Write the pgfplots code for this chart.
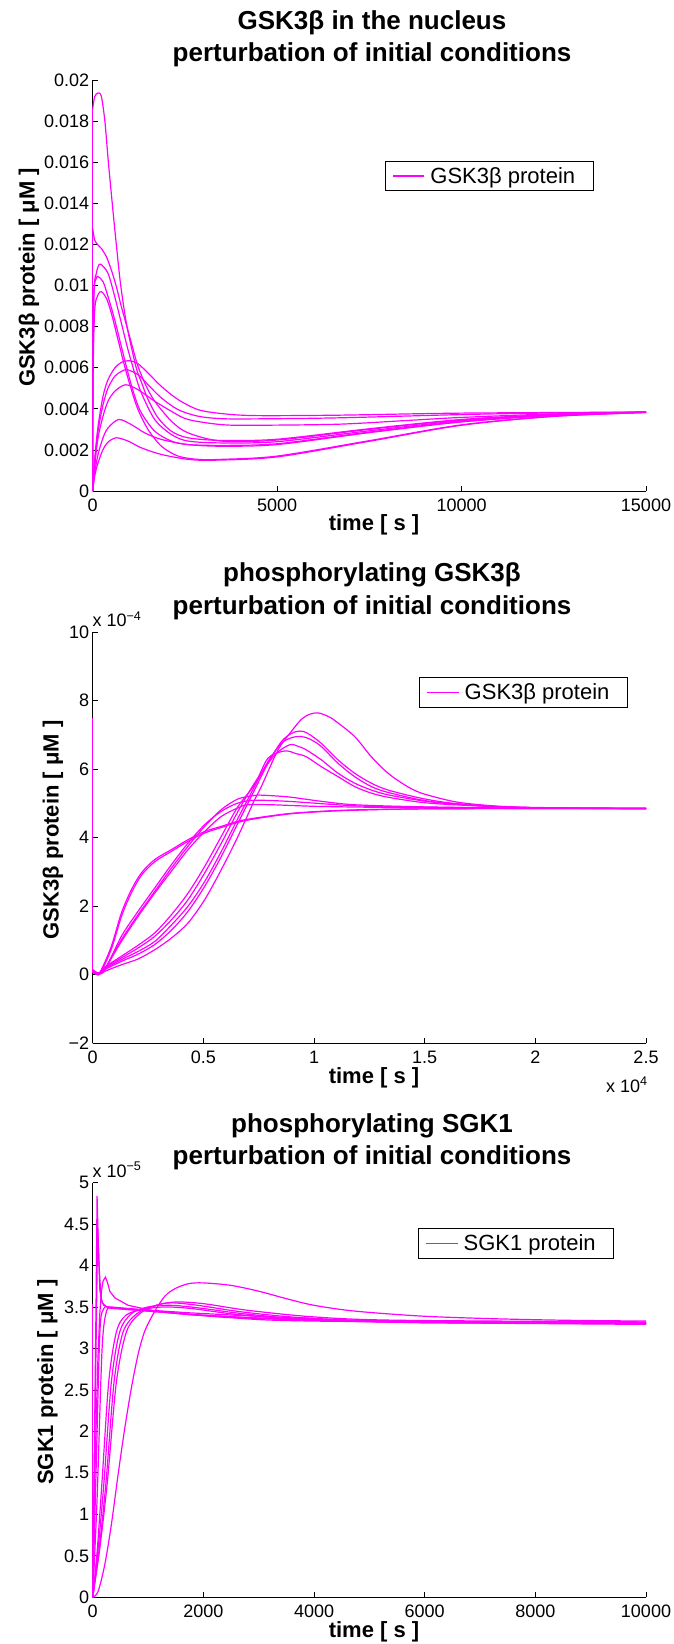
\documentclass[border=0pt]{standalone}
\usepackage{pgfplots}
\pgfplotsset{compat=1.18}
\usepackage{fontspec}
\setmainfont{Liberation Sans}
\definecolor{mag}{RGB}{255,0,255}
\pgfplotsset{
  matlab/.style={
    scale only axis, width=553.3pt,
    axis x line*=bottom, axis y line*=left,
    axis line style={-, black, line width=0.8pt},
    tick align=inside, major tick length=5.5pt,
    tick style={black, line width=0.8pt},
    scaled ticks=false,
    tick label style={font=\fontsize{18}{18}\selectfont, inner sep=0pt},
    xticklabel style={anchor=base, yshift=-20.5pt},
    yticklabel style={anchor=east, xshift=-3.4pt},
    enlargelimits=false, clip=false,
    legend style={draw=black, line width=0.8pt, fill=white, inner xsep=7pt, inner ysep=6pt,
      font=\fontsize{22}{22}\selectfont, nodes={inner sep=0pt}, column sep=5.5pt, anchor=north west},
    legend image code/.code={\draw[color=mag, line width=1.2pt] (0pt,0pt) -- (31.5pt,0pt);},
  },
  curve/.style={color=mag, line width=1.2pt, mark=none, smooth, tension=0.5},
  sharp/.style={color=mag, line width=1.2pt, mark=none},
}
\begin{document}
\begin{tikzpicture}
\useasboundingbox (0pt,0pt) rectangle (674pt,-1644pt);
% ---------------- Plot 1 ----------------
\begin{axis}[matlab, at={(92.7pt,-491pt)}, anchor=south west, height=411pt,
  xmin=0, xmax=15000, ymin=0, ymax=0.02,
  xtick={0,5000,10000,15000}, xticklabels={0,5000,10000,15000},
  ytick={0,0.002,0.004,0.006,0.008,0.01,0.012,0.014,0.016,0.018,0.02},
  yticklabels={0,0.002,0.004,0.006,0.008,0.01,0.012,0.014,0.016,0.018,0.02},
  legend style={at={(0.528,0.803)}}]
\addplot[curve] coordinates {(0,0.0186) (54,0.01919) (145,0.01937) (235,0.0192) (330,0.0180) (420,0.0161) (530,0.0140) (640,0.0120) (760,0.0100) (930,0.0080) (1180,0.0060) (1320,0.0053) (1501,0.00445) (1772,0.00356) (2133,0.00291) (2585,0.00259) (3489,0.00246) (5000,0.00252) (7500,0.00303) (10000,0.00348) (12500,0.00372) (15000,0.00384)};
\addlegendentry{GSK3β protein\hspace*{11pt}}
\addplot[sharp] coordinates {(0,0) (0,0.0186)};
\addplot[curve] coordinates {(0,0.01277) (54,0.01221) (145,0.01197) (235,0.0118) (371,0.0114) (506,0.01075) (642,0.00994) (777,0.00897) (913,0.00809) (1049,0.0072) (1229,0.00606) (1455,0.00509) (1681,0.00437) (2133,0.0034) (2585,0.00283) (3489,0.00243) (5000,0.00248) (7500,0.003) (10000,0.00346) (12500,0.00371) (15000,0.00384)};
\addplot[curve] coordinates {(0,0) (10,0.006) (36,0.0098) (99,0.01059) (145,0.01091) (217,0.01104) (416,0.01059) (597,0.00946) (777,0.00817) (958,0.00687) (1139,0.00574) (1320,0.00477) (1681,0.00348) (2133,0.00275) (2585,0.00243) (3489,0.00234) (5000,0.0024) (7500,0.00293) (10000,0.00342) (12500,0.0037) (15000,0.00384)};
\addplot[curve] coordinates {(0,0) (10,0.006) (36,0.0097) (99,0.01035) (145,0.01043) (280,0.01019) (416,0.00946) (597,0.00833) (777,0.00703) (958,0.00574) (1139,0.00461) (1320,0.0038) (1681,0.00291) (2133,0.00243) (2585,0.00226) (3489,0.00222) (5000,0.0023) (7500,0.00287) (10000,0.00338) (12500,0.00369) (15000,0.00384)};
\addplot[curve] coordinates {(0,0) (10,0.0055) (54,0.0088) (145,0.00955) (235,0.0097) (371,0.00938) (506,0.00865) (687,0.00736) (868,0.00606) (1049,0.00493) (1229,0.00396) (1501,0.00299) (1862,0.00218) (2314,0.0017) (2857,0.00154) (3489,0.00154) (5000,0.0017) (7500,0.00245) (10000,0.00322) (12500,0.00364) (15000,0.00382)};
\addplot[curve] coordinates {(0,0) (54,0.00154) (145,0.00315) (280,0.00461) (416,0.00542) (597,0.00598) (777,0.00626) (1003,0.00634) (1229,0.00619) (1501,0.00574) (1862,0.00509) (2314,0.00445) (2857,0.00396) (3489,0.00377) (4393,0.00367) (6653,0.00369) (10000,0.00379) (15000,0.00384)};
\addplot[curve] coordinates {(0,0) (54,0.00137) (145,0.00291) (280,0.0042) (416,0.00501) (597,0.00558) (777,0.00582) (940,0.0059) (1229,0.00566) (1501,0.00517) (1862,0.00453) (2314,0.00396) (2857,0.00364) (3489,0.00352) (4393,0.00351) (6653,0.00356) (10000,0.00372) (12500,0.0038) (15000,0.00384)};
\addplot[curve] coordinates {(0,0) (54,0.00121) (145,0.00259) (280,0.00364) (416,0.00437) (597,0.00485) (886,0.00517) (1229,0.00493) (1681,0.00437) (2133,0.00388) (2585,0.00348) (3489,0.00323) (4393,0.0032) (6653,0.00325) (8500,0.00343) (10000,0.00358) (12500,0.00375) (15000,0.00383)};
\addplot[curve] coordinates {(0,0) (54,0.00089) (145,0.00178) (280,0.00259) (416,0.00307) (705,0.00348) (1049,0.00323) (1410,0.00283) (1862,0.00251) (2585,0.00226) (3489,0.00218) (5000,0.00226) (7500,0.00284) (10000,0.00336) (12500,0.00368) (15000,0.00384)};
\addplot[curve] coordinates {(0,0) (54,0.00073) (145,0.00137) (280,0.00202) (416,0.00238) (642,0.00259) (958,0.00243) (1320,0.0021) (1862,0.00178) (2585,0.00154) (3309,0.0015) (5000,0.00166) (7500,0.00242) (10000,0.0032) (12500,0.00363) (15000,0.00382)};
\end{axis}
% ---------------- Plot 2 (y in units of 1e-4) ----------------
\begin{axis}[matlab, at={(92.7pt,-1043.3pt)}, anchor=south west, height=411.3pt,
  xmin=0, xmax=25000, ymin=-2, ymax=10,
  xtick={0,5000,10000,15000,20000,25000}, xticklabels={0,0.5,1,1.5,2,2.5},
  ytick={-2,0,2,4,6,8,10}, yticklabels={−2,0,2,4,6,8,10},
  legend style={at={(0.590,0.890)}}]
\addplot[curve] coordinates {(0,0.15) (250,0.05) (392,0.15) (843,0.83) (1295,1.80) (1747,2.48) (2199,2.97) (2801,3.36) (3554,3.65) (4307,3.94) (5060,4.18) (5813,4.33) (6566,4.48) (7319,4.57) (8825,4.70) (10331,4.77) (11837,4.81) (14849,4.84) (20000,4.85) (25000,4.85)};
\addlegendentry{GSK3β protein\hspace*{11pt}}
\addplot[curve] coordinates {(0,0.1) (250,0.0) (420,0.12) (870,0.80) (1320,1.74) (1770,2.42) (2220,2.92) (2830,3.31) (3580,3.61) (4330,3.90) (5080,4.14) (5830,4.30) (6580,4.45) (7330,4.55) (8850,4.69) (10350,4.76) (11850,4.80) (14850,4.84) (20000,4.85) (25000,4.85)};
\addplot[curve] coordinates {(0,0.05) (300,0.05) (542,0.17) (1295,1.02) (2048,1.75) (2801,2.43) (3554,3.11) (4307,3.75) (5060,4.33) (5813,4.82) (6566,5.13) (7319,5.23) (7620,5.24) (8825,5.19) (10331,5.06) (11837,4.96) (14849,4.90) (19668,4.86) (25000,4.85)};
\addplot[curve] coordinates {(0,0.08) (300,0.04) (560,0.15) (1295,1.12) (2048,1.85) (2801,2.53) (3554,3.21) (4307,3.84) (5060,4.38) (5813,4.77) (6566,5.01) (7319,5.09) (8825,5.06) (11837,4.93) (14849,4.89) (20000,4.86) (25000,4.85)};
\addplot[curve] coordinates {(0,0.1) (300,0.05) (560,0.18) (1295,0.97) (2048,1.70) (2801,2.38) (3554,3.02) (4307,3.65) (5060,4.18) (5813,4.62) (6566,4.87) (7018,4.96) (8073,4.96) (10331,4.91) (14849,4.87) (20000,4.85) (25000,4.85)};
\addplot[sharp] coordinates {(0,7.5) (0,0.1)};
\addplot[curve] coordinates {(0,0.1) (250,0.0) (542,0.10) (1295,0.29) (2048,0.46) (2801,0.73) (3554,1.07) (4307,1.51) (5060,2.19) (5813,3.07) (6566,4.04) (7319,5.11) (7620,5.49) (8373,6.56) (8976,7.10) (9427,7.45) (9800,7.60) (10180,7.64) (10600,7.55) (10934,7.42) (11837,6.95) (12590,6.36) (13343,5.88) (14096,5.54) (14849,5.30) (16355,5.05) (17861,4.94) (19367,4.89) (22379,4.86) (25000,4.85)};
\addplot[curve] coordinates {(0,0.1) (250,0.02) (542,0.15) (1295,0.39) (2048,0.60) (2801,0.88) (3554,1.30) (4307,1.85) (5060,2.58) (5813,3.45) (6566,4.43) (7319,5.40) (7900,6.15) (8524,6.80) (8976,7.04) (9352,7.11) (9700,7.05) (10331,6.75) (11084,6.27) (11837,5.88) (12590,5.59) (13343,5.39) (14849,5.15) (16355,5.00) (19367,4.88) (25000,4.85)};
\addplot[curve] coordinates {(0,0.12) (250,0.03) (542,0.18) (1295,0.44) (2048,0.68) (2801,0.97) (3554,1.45) (4307,2.00) (5060,2.72) (5813,3.60) (6566,4.57) (7319,5.50) (7900,6.20) (8524,6.75) (9000,6.92) (9427,6.95) (9800,6.88) (10331,6.66) (11084,6.17) (11837,5.78) (12590,5.49) (13343,5.32) (14849,5.10) (16355,4.98) (19367,4.88) (25000,4.85)};
\addplot[curve] coordinates {(0,0.08) (250,0.0) (542,0.2) (1295,0.49) (2048,0.78) (2801,1.12) (3554,1.60) (4307,2.19) (5060,2.97) (5813,3.84) (6566,4.77) (7319,5.60) (8223,6.41) (8900,6.71) (9300,6.66) (9653,6.56) (10331,6.27) (11084,5.88) (11837,5.59) (12590,5.39) (13343,5.25) (14849,5.08) (16355,4.98) (19367,4.88) (25000,4.85)};
\addplot[curve] coordinates {(0,0.1) (250,0.02) (542,0.22) (1295,0.54) (2048,0.86) (2801,1.22) (3554,1.75) (4307,2.38) (5060,3.16) (5813,4.04) (6566,4.91) (7319,5.55) (7922,6.32) (8675,6.53) (9200,6.45) (9653,6.36) (10331,6.07) (11084,5.78) (11837,5.49) (12590,5.30) (13343,5.18) (14849,5.03) (16355,4.96) (19367,4.88) (25000,4.85)};
\end{axis}
% ---------------- Plot 3 (y in units of 1e-5) ----------------
\begin{axis}[matlab, at={(92.7pt,-1597.3pt)}, anchor=south west, height=414.8pt,
  xmin=0, xmax=10000, ymin=0, ymax=5,
  xtick={0,2000,4000,6000,8000,10000}, xticklabels={0,2000,4000,6000,8000,10000},
  ytick={0,0.5,1,1.5,2,2.5,3,3.5,4,4.5,5}, yticklabels={0,0.5,1,1.5,2,2.5,3,3.5,4,4.5,5},
  legend style={at={(0.588,0.890)}}]
\addplot[curve] coordinates {(0,0) (97,0.07) (217,0.39) (338,0.88) (459,1.48) (580,2.04) (701,2.53) (821,2.93) (942,3.21) (1123,3.45) (1305,3.63) (1486,3.72) (1727,3.78) (2000,3.79) (2500,3.76) (3000,3.69) (3500,3.60) (4000,3.52) (4738,3.45) (5943,3.39) (7149,3.36) (8500,3.34) (10000,3.33)};
\addlegendentry{SGK1 protein\hspace*{11pt}}
\addplot[sharp] coordinates {(0,0) (60,3.5) (79,4.84) (100,4.3) (130,3.7) (170,3.55) (250,3.50) (400,3.49) (822,3.47) (1729,3.43) (2600,3.40) (3540,3.37) (4500,3.34) (6000,3.32) (8000,3.31) (10000,3.30)};
\addplot[sharp] coordinates {(0,0) (70,3.5) (90,4.44) (115,4.0) (150,3.6) (200,3.52) (300,3.49) (822,3.46) (1729,3.41) (2600,3.38) (3540,3.35) (4500,3.33) (6000,3.31) (8000,3.30) (10000,3.29)};
\addplot[sharp] coordinates {(0,0) (36,1.40) (90,2.8) (127,3.41) (160,3.70) (187,3.81) (230,3.86) (270,3.79) (308,3.69) (399,3.61) (640,3.52) (1123,3.45) (1727,3.41) (2633,3.37) (3540,3.35) (4500,3.33) (6000,3.32) (8000,3.31) (10000,3.30)};
\addplot[curve] coordinates {(0,0) (60,1.5) (130,3.2) (200,3.48) (300,3.50) (500,3.49) (1000,3.46) (2000,3.40) (3500,3.35) (6000,3.31) (10000,3.30)};
\addplot[curve] coordinates {(0,0) (80,1.2) (170,3.0) (250,3.45) (350,3.48) (600,3.47) (1200,3.44) (2500,3.37) (4000,3.33) (10000,3.30)};
\addplot[curve] coordinates {(0,0) (80,0.55) (169,1.4) (290,2.6) (429,3.2) (600,3.40) (900,3.47) (1300,3.50) (1800,3.48) (2600,3.41) (3600,3.36) (5000,3.33) (10000,3.30)};
\addplot[curve] coordinates {(0,0) (100,0.6) (205,1.4) (338,2.6) (489,3.2) (700,3.42) (1000,3.50) (1400,3.52) (1900,3.49) (2700,3.42) (3700,3.36) (5000,3.33) (10000,3.31)};
\addplot[curve] coordinates {(0,0) (120,0.6) (242,1.4) (387,2.6) (550,3.2) (800,3.42) (1100,3.51) (1400,3.55) (1900,3.52) (2700,3.44) (3800,3.37) (5500,3.33) (10000,3.31)};
\addplot[sharp] coordinates {(0,3.53) (0,0)};
\addplot[curve] coordinates {(0,0) (130,0.6) (266,1.4) (429,2.6) (610,3.2) (850,3.42) (1150,3.52) (1500,3.56) (2000,3.54) (2800,3.46) (4000,3.38) (5500,3.34) (10000,3.32)};
\end{axis}
% ---------------- Text ----------------
\tikzset{ttl/.style={font=\bfseries\fontsize{26}{26}\selectfont, anchor=base, inner sep=0pt},
         lbl/.style={font=\bfseries\fontsize{22}{22}\selectfont, anchor=base, inner sep=0pt},
         sml/.style={font=\fontsize{18}{18}\selectfont, anchor=base west, inner sep=0pt}}
\node[ttl] at (372pt,-29.3pt) {GSK3β in the nucleus};
\node[ttl] at (372pt,-61.7pt) {perturbation of initial conditions};
\node[lbl] at (374pt,-530.7pt) {time [ s ]};
\node[lbl, rotate=90] at (34.5pt,-277.5pt) {GSK3β protein [ μM ]};

\node[ttl] at (372pt,-581.6pt) {phosphorylating GSK3β};
\node[ttl] at (372pt,-614pt) {perturbation of initial conditions};
\node[sml] at (92.4pt,-626.4pt) {x 10\textsuperscript{−4}};
\node[lbl] at (374pt,-1083pt) {time [ s ]};
\node[sml] at (606pt,-1092pt) {x 10\textsuperscript{4}};
\node[lbl, rotate=90] at (58.5pt,-829.8pt) {GSK3β protein [ μM ]};

\node[ttl] at (372pt,-1132.1pt) {phosphorylating SGK1};
\node[ttl] at (372pt,-1164.5pt) {perturbation of initial conditions};
\node[sml] at (92.4pt,-1177pt) {x 10\textsuperscript{−5}};
\node[lbl] at (374pt,-1637pt) {time [ s ]};
\node[lbl, rotate=90] at (53pt,-1382pt) {SGK1 protein [ μM ]};
\end{tikzpicture}
\end{document}
